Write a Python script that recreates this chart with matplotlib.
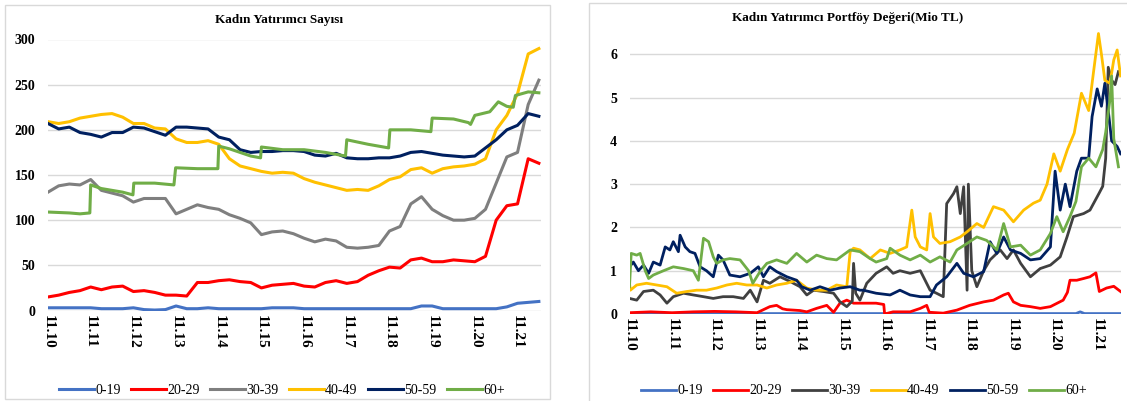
import numpy as np
import matplotlib
matplotlib.use("Agg")
import matplotlib.pyplot as plt
from matplotlib.patches import Rectangle

plt.rcParams['font.family'] = ['Liberation Serif', 'DejaVu Serif']

# --- data ---------------------------------------------------------------
series_names = ['0-19', '20-29', '30-39', '40-49', '50-59', '60+']
year_labels = ['11.10', '11.11', '11.12', '11.13', '11.14', '11.15',
               '11.16', '11.17', '11.18', '11.19', '11.20', '11.21']

# left chart: investor counts, quarterly readings (t = years since 11.10)
t_count = np.arange(0, 11.51, 0.25)
count_0_19 = [3, 3, 3, 3, 3, 2, 2, 2, 3, 1, 0.5, 1, 5, 2, 2, 3, 2, 2, 2, 2, 2, 3, 3, 3,
              2, 2, 2, 2, 2, 2, 2, 2, 2, 2, 2, 5, 5, 2, 2, 2, 2, 2, 2, 4, 8, 9, 10]
count_20_29 = [15, 17, 20, 22, 26, 23, 26, 27, 21, 22, 20, 17, 17, 16, 31, 31, 33, 34, 32, 31,
               25, 28, 29, 30, 27, 26, 31, 33, 30, 32, 39, 44, 48, 47, 56, 58, 54, 54, 56, 55,
               54, 60, 100, 116, 118, 168, 163]
count_30_39 = [131, 138, 140, 139, 145, 133, 130, 127, 120, 124, 124, 124, 107, 112, 117, 114,
               112, 106, 102, 97, 84, 87, 88, 85, 80, 76, 79, 77, 70, 69, 70, 72, 88, 93, 118,
               126, 112, 105, 100, 100, 102, 112, 141, 170, 175, 228, 255]
count_40_49 = [209, 207, 209, 213, 215, 217, 218, 214, 207, 207, 202, 201, 190, 186, 186, 188,
               184, 168, 160, 157, 154, 152, 153, 152, 146, 142, 139, 136, 133, 134, 133, 138,
               145, 148, 156, 158, 152, 157, 159, 160, 162, 168, 200, 216, 240, 284, 290]
count_50_59 = [207, 201, 203, 197, 195, 192, 197, 197, 203, 202, 198, 194, 203, 203, 202, 201,
               192, 189, 178, 175, 176, 176, 177, 177, 176, 172, 171, 174, 169, 168, 168, 169,
               169, 171, 175, 176, 174, 172, 171, 170, 171, 180, 189, 200, 205, 218, 215]
t_count_60 = [0, 0.5, 0.75, 0.98, 1.0, 1.25, 1.5, 1.75, 1.99, 2.01, 2.5, 2.95, 2.99, 3.5, 3.98,
              4.0, 4.25, 4.5, 4.75, 4.98, 5.0, 5.5, 6.0, 6.5, 6.97, 7.0, 7.5, 7.98, 8.01, 8.5,
              8.97, 9.0, 9.5, 9.85, 9.9, 10.0, 10.35, 10.55, 10.75, 10.9, 10.95, 11.25, 11.5]
count_60 = [109, 108, 107, 108, 139, 135, 133, 131, 128, 141, 141, 139, 158, 157, 157,
            182, 179, 175, 171, 169, 181, 178, 178, 175, 171, 189, 184, 180, 200, 200,
            198, 213, 212, 208, 206, 216, 220, 231, 226, 225, 238, 242, 241]

# right chart: portfolio value (Mio TL), irregular readings
t_val_0_19 = [0, 5, 10.5, 10.6, 10.7, 11.55]
val_0_19 = [0.01, 0.01, 0.01, 0.05, 0.01, 0.01]
t_val_20_29 = [0, 0.5, 1.0, 1.5, 2.0, 2.5, 3.0, 3.3, 3.46, 3.6, 3.7, 4.01, 4.17, 4.4, 4.64, 4.8,
               4.95, 5.11, 5.27, 5.5, 5.8, 5.98, 6.0, 6.2, 6.6, 6.84, 6.99, 7.05, 7.38, 7.7,
               8.0, 8.33, 8.56, 8.8, 8.91, 9.03, 9.2, 9.43, 9.66, 9.9, 10.2, 10.3, 10.36,
               10.52, 10.68, 10.83, 10.97, 11.05, 11.22, 11.39, 11.55]
val_20_29 = [0.03, 0.05, 0.03, 0.05, 0.06, 0.05, 0.03, 0.17, 0.2, 0.12, 0.1, 0.08, 0.05, 0.13,
             0.2, 0.04, 0.25, 0.32, 0.25, 0.25, 0.25, 0.22, 0.0, 0.05, 0.05, 0.13, 0.2, 0.04,
             0.02, 0.09, 0.2, 0.28, 0.32, 0.44, 0.48, 0.28, 0.2, 0.17, 0.13, 0.17, 0.32, 0.5,
             0.78, 0.78, 0.82, 0.86, 0.95, 0.52, 0.6, 0.64, 0.52]
t_val_30_39 = [0.0, 0.17, 0.33, 0.56, 0.72, 0.88, 1.03, 1.27, 1.5, 1.74, 1.97, 2.2, 2.44, 2.68,
               2.84, 3.0, 3.15, 3.3, 3.54, 3.78, 4.01, 4.17, 4.33, 4.56, 4.8, 4.95, 5.11, 5.24,
               5.27, 5.32, 5.42, 5.58, 5.8, 6.05, 6.2, 6.36, 6.6, 6.84, 7.07, 7.22, 7.38, 7.46,
               7.62, 7.7, 7.78, 7.86, 7.94, 7.97, 8.05, 8.17, 8.33, 8.48, 8.72, 8.88, 9.03,
               9.2, 9.43, 9.66, 9.9, 10.13, 10.29, 10.44, 10.68, 10.83, 11.05, 11.13, 11.2,
               11.26, 11.34, 11.42, 11.5]
val_30_39 = [0.36, 0.32, 0.52, 0.55, 0.44, 0.25, 0.4, 0.48, 0.44, 0.4, 0.36, 0.4, 0.4, 0.36,
             0.55, 0.28, 0.78, 0.71, 0.86, 0.75, 0.63, 0.44, 0.55, 0.52, 0.48, 0.28, 0.17,
             0.3, 1.17, 0.48, 0.32, 0.71, 0.94, 1.09, 0.94, 1.0, 0.94, 1.0, 0.55, 0.48, 0.4,
             2.55, 2.78, 2.94, 2.32, 2.94, 0.55, 3.0, 1.0, 0.63, 1.0, 1.25, 1.48, 1.28, 1.48,
             1.17, 0.86, 1.05, 1.13, 1.32, 1.78, 2.25, 2.32, 2.4, 2.8, 2.95, 3.6, 5.7, 5.4,
             5.3, 5.6]
t_val_40_49 = [0.0, 0.02, 0.17, 0.4, 0.64, 0.88, 1.11, 1.35, 1.58, 1.81, 2.05, 2.29, 2.52,
               2.76, 3.0, 3.23, 3.46, 3.7, 3.93, 4.17, 4.4, 4.64, 4.87, 5.11, 5.19, 5.27,
               5.42, 5.66, 5.9, 6.13, 6.36, 6.52, 6.64, 6.72, 6.84, 6.99, 7.07, 7.15, 7.3,
               7.54, 7.78, 7.94, 8.17, 8.33, 8.56, 8.8, 9.03, 9.27, 9.5, 9.66, 9.82, 9.98,
               10.13, 10.3, 10.46, 10.63, 10.8, 10.92, 11.03, 11.1, 11.18, 11.3, 11.39,
               11.47, 11.55]
val_40_49 = [0.71, 0.55, 0.67, 0.71, 0.67, 0.63, 0.48, 0.52, 0.55, 0.55, 0.6, 0.67, 0.71,
             0.67, 0.67, 0.6, 0.67, 0.71, 0.78, 0.6, 0.55, 0.55, 0.67, 0.63, 1.44, 1.52, 1.48,
             1.28, 1.48, 1.4, 1.48, 1.55, 2.4, 1.78, 1.55, 1.48, 2.32, 1.78, 1.63, 1.67, 1.78,
             1.9, 2.09, 2.0, 2.48, 2.4, 2.13, 2.4, 2.56, 2.63, 3.0, 3.7, 3.3, 3.8, 4.18, 5.1,
             4.7, 5.64, 6.48, 6.0, 5.4, 5.33, 5.87, 6.1, 5.5]
t_val_50_59 = [0.0, 0.09, 0.21, 0.33, 0.45, 0.56, 0.72, 0.84, 0.95, 1.03, 1.15, 1.19, 1.31,
               1.42, 1.54, 1.66, 1.81, 1.97, 2.09, 2.2, 2.36, 2.6, 2.84, 3.03, 3.15, 3.3,
               3.46, 3.7, 3.93, 4.05, 4.25, 4.48, 4.72, 4.95, 5.19, 5.42, 5.5, 5.8, 6.13,
               6.36, 6.6, 6.84, 7.07, 7.22, 7.46, 7.7, 7.86, 8.09, 8.33, 8.48, 8.64, 8.8,
               8.96, 9.2, 9.43, 9.66, 9.9, 10.01, 10.13, 10.25, 10.36, 10.52, 10.63, 10.8,
               10.88, 11.0, 11.1, 11.18, 11.26, 11.34, 11.47, 11.55]
val_50_59 = [1.09, 1.2, 1.0, 1.13, 0.94, 1.2, 1.13, 1.55, 1.48, 1.67, 1.44, 1.82, 1.55, 1.44,
             1.4, 1.09, 1.0, 0.86, 1.36, 1.25, 0.9, 0.86, 0.94, 1.09, 0.86, 1.09, 0.98, 0.86,
             0.78, 0.63, 0.55, 0.63, 0.55, 0.6, 0.63, 0.55, 0.55, 0.48, 0.44, 0.55, 0.44, 0.4,
             0.4, 0.67, 0.86, 1.17, 0.94, 0.86, 0.98, 1.67, 1.4, 1.78, 1.48, 1.4, 1.25, 1.28,
             1.55, 3.3, 2.4, 3.0, 2.48, 3.3, 3.6, 3.6, 4.56, 5.2, 4.8, 5.33, 4.7, 4.0, 3.87,
             3.7]
t_val_60 = [0.0, 0.04, 0.17, 0.25, 0.37, 0.45, 0.56, 0.8, 1.03, 1.27, 1.5, 1.62, 1.74, 1.86,
            1.97, 2.05, 2.2, 2.36, 2.6, 2.8, 2.9, 3.07, 3.23, 3.46, 3.7, 3.93, 4.17, 4.4,
            4.64, 4.87, 5.19, 5.42, 5.66, 5.8, 6.05, 6.13, 6.36, 6.6, 6.84, 7.07, 7.3, 7.54,
            7.7, 7.94, 8.17, 8.4, 8.64, 8.8, 8.96, 9.2, 9.43, 9.66, 9.9, 10.05, 10.2, 10.36,
            10.5, 10.63, 10.8, 10.97, 11.13, 11.2, 11.3, 11.34, 11.39, 11.5]
val_60 = [0.63, 1.4, 1.36, 1.4, 1.0, 0.82, 0.9, 1.0, 1.09, 1.05, 1.0, 0.78, 1.75, 1.67, 1.32,
          1.17, 1.25, 1.28, 1.25, 1.0, 0.71, 0.98, 1.17, 1.25, 1.17, 1.4, 1.2, 1.36, 1.28,
          1.25, 1.48, 1.44, 1.28, 1.2, 1.28, 1.52, 1.36, 1.25, 1.36, 1.2, 1.32, 1.2, 1.48,
          1.63, 1.78, 1.7, 1.48, 2.09, 1.55, 1.59, 1.36, 1.48, 1.86, 2.25, 1.9, 2.25, 2.6,
          3.4, 3.6, 3.4, 3.8, 4.2, 4.95, 5.5, 4.05, 3.4]

# --- figure -------------------------------------------------------------
W, H = 1127, 401
fig = plt.figure(figsize=(W / 100, H / 100), dpi=100)

def px(x0, y0, x1, y1):
    # pixel box (top-left origin) -> figure fraction rect
    return [x0 / W, 1 - y1 / H, (x1 - x0) / W, (y1 - y0) / H]

# panel frames
fig.add_artist(Rectangle((5 / W, 1 - 399 / H), 545 / W, 394 / H, transform=fig.transFigure,
                         fill=False, ec='#D9D9D9', lw=1))
fig.add_artist(Rectangle((589 / W, -0.02), 0.5, 1.02 - 3 / H, transform=fig.transFigure,
                         fill=False, ec='#D9D9D9', lw=1))

tick_font = dict(family=['Liberation Serif', 'DejaVu Serif'], weight='bold')


def style_axes(ax, yticks, xmax):
    ax.set_xlim(0, xmax)
    ax.set_yticks(yticks)
    ax.set_xticks(range(len(year_labels)))
    ax.set_xticklabels(year_labels, rotation=-90, fontsize=11, **tick_font)
    ax.set_yticklabels([str(v) for v in yticks], fontsize=10, **tick_font)
    ax.tick_params(length=0, pad=3)
    ax.tick_params(axis='y', pad=9)
    ax.grid(axis='y', color='#D9D9D9', lw=1)
    ax.set_axisbelow(True)
    for s in ax.spines.values():
        s.set_visible(False)


legend_kw = dict(loc='center', ncol=6, frameon=False, handlelength=2.5, handletextpad=0.1,
                 columnspacing=0.75, prop=dict(family=['Liberation Serif'], size=10))

# left chart
ax1 = fig.add_axes(px(48, 39.5, 541, 310.5))
cols_l = ['#4472C4', '#FF0000', '#7F7F7F', '#FFC000', '#002060', '#70AD47']
for name, y, c in zip(series_names[:5],
                      [count_0_19, count_20_29, count_30_39, count_40_49, count_50_59],
                      cols_l[:5]):
    ax1.plot(t_count, y, color=c, lw=2.2, label=name)
ax1.plot(t_count_60, count_60, color=cols_l[5], lw=2.2, label='60+')
ax1.set_ylim(0, 300)
style_axes(ax1, [0, 50, 100, 150, 200, 250, 300], 11.55)
fig.text(279 / W, 1 - 20 / H, 'Kadın Yatırımcı Sayısı', ha='center', va='center',
         fontsize=9.5, **tick_font)
h1, l1 = ax1.get_legend_handles_labels()
fig.legend(h1, l1, bbox_to_anchor=(282 / W, 1 - 390 / H), **legend_kw)

# right chart
ax2 = fig.add_axes(px(629.5, 24, 1121, 314))
cols_r = ['#4472C4', '#FF0000', '#404040', '#FFC000', '#002060', '#70AD47']
for name, t, y, c in zip(series_names,
                         [t_val_0_19, t_val_20_29, t_val_30_39, t_val_40_49, t_val_50_59, t_val_60],
                         [val_0_19, val_20_29, val_30_39, val_40_49, val_50_59, val_60],
                         cols_r):
    ax2.plot(t, y, color=c, lw=2.0, label=name)
ax2.set_ylim(0, 6.7)
style_axes(ax2, [0, 1, 2, 3, 4, 5, 6], 11.56)
fig.text(848 / W, 1 - 18 / H, 'Kadın Yatırımcı Portföy Değeri(Mio TL)', ha='center',
         va='center', fontsize=9.5, **tick_font)
h2, l2 = ax2.get_legend_handles_labels()
fig.legend(h2, l2, bbox_to_anchor=(864 / W, 1 - 391 / H), **legend_kw)

fig.savefig('out.png', dpi=100)
